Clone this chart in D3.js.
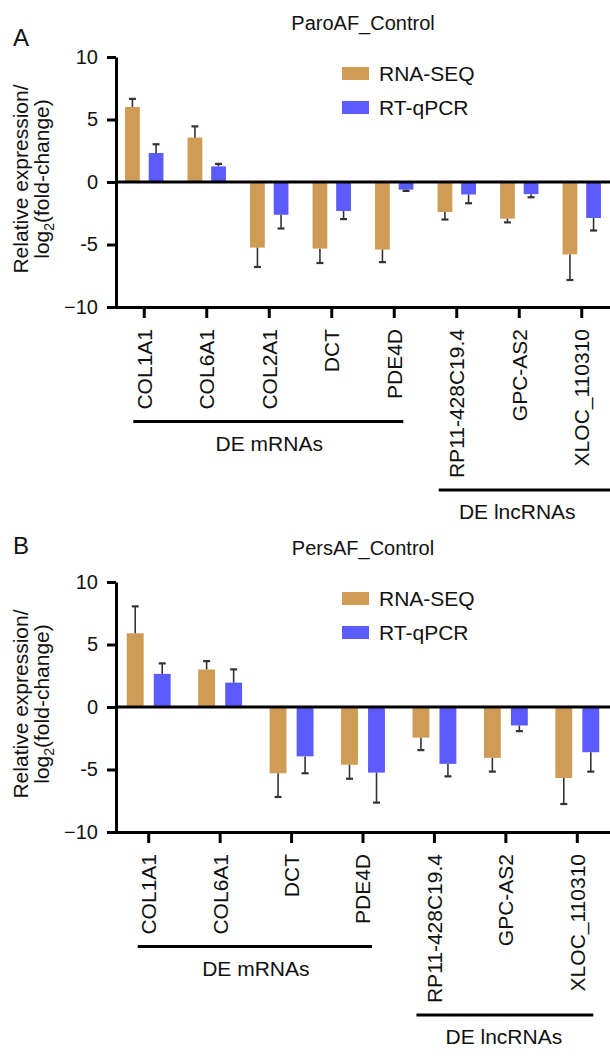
<!DOCTYPE html>
<html>
<head>
<meta charset="utf-8">
<script src="https://cdn.jsdelivr.net/npm/d3@7"></script>
<style>
  body { margin: 0; background: #fff; }
  text { font-family: "Liberation Sans", Arial, Helvetica, sans-serif; fill: #111; }
</style>
</head>
<body>
<script>
// series names + colours
var series = ["RNA-SEQ", "RT-qPCR"];
var colors = ["#CF9C55", "#5B5BFE"];

// y axis ticks
var yTicks = [-10, -5, 0, 5, 10];
var yTickLabels = ["\u221210", "-5", "0", "5", "10"];

// panel A: ParoAF_Control
var genesA = ["COL1A1", "COL6A1", "COL2A1", "DCT", "PDE4D", "RP11-428C19.4", "GPC-AS2", "XLOC_110310"];
var seqA = [6.0, 3.55, -5.25, -5.33, -5.41, -2.4, -2.93, -5.79];
var seqErrA = [0.65, 0.9, 1.55, 1.15, 1.0, 0.6, 0.3, 2.05];
var pcrA = [2.32, 1.25, -2.62, -2.32, -0.61, -1.0, -0.97, -2.88];
var pcrErrA = [0.7, 0.2, 1.1, 0.65, 0.1, 0.7, 0.25, 1.0];
var mrnaA = ["COL1A1", "COL6A1", "COL2A1", "DCT", "PDE4D"];
var lncA = ["RP11-428C19.4", "GPC-AS2", "XLOC_110310"];

// panel B: PersAF_Control
var genesB = ["COL1A1", "COL6A1", "DCT", "PDE4D", "RP11-428C19.4", "GPC-AS2", "XLOC_110310"];
var seqB = [5.9, 3.0, -5.3, -4.62, -2.45, -4.07, -5.68];
var seqErrB = [2.15, 0.67, 1.9, 1.12, 1.0, 1.1, 2.08];
var pcrB = [2.65, 1.95, -3.95, -5.25, -4.55, -1.48, -3.62];
var pcrErrB = [0.84, 1.06, 1.35, 2.4, 1.0, 0.45, 1.55];
var mrnaB = ["COL1A1", "COL6A1", "DCT", "PDE4D"];
var lncB = ["RP11-428C19.4", "GPC-AS2", "XLOC_110310"];

var W = 610, H = 1056;
var svg = d3.select("body").append("svg").attr("width", W).attr("height", H);

function drawPanel(p) {
    var g = svg.append("g");
    var axisX = 116;

    var y = d3.scaleLinear().domain([-10, 10]).range([p.yBottom, p.yTop]);
    var x = d3.scaleBand().domain(p.genes).range([113, 613]).padding(0);
    var x1 = d3.scaleBand().domain(series).range([0, x.bandwidth()])
        .paddingInner(0.375).paddingOuter(0.51);

    // letter + title
    g.append("text").attr("x", 13).attr("y", p.letterY)
        .attr("font-size", 24).text(p.letter);
    g.append("text").attr("x", 363).attr("y", p.yTop - 27)
        .attr("text-anchor", "middle").attr("font-size", 20).text(p.title);

    // bars
    var rows = p.genes.map(function (d, i) {
        return [
            { gene: d, s: series[0], v: p.seq[i], e: p.seqErr[i] },
            { gene: d, s: series[1], v: p.pcr[i], e: p.pcrErr[i] }
        ];
    });
    var flat = [].concat.apply([], rows);

    g.selectAll("rect.bar").data(flat).enter().append("rect")
        .attr("class", "bar")
        .attr("x", function (d) { return x(d.gene) + x1(d.s); })
        .attr("width", x1.bandwidth())
        .attr("y", function (d) { return y(Math.max(0, d.v)); })
        .attr("height", function (d) { return Math.abs(y(d.v) - y(0)); })
        .attr("fill", function (d) { return colors[series.indexOf(d.s)]; });

    // error bars (one-sided)
    var eb = g.selectAll("g.err").data(flat).enter().append("g").attr("class", "err")
        .attr("stroke", "#333").attr("stroke-width", 1.6);
    eb.append("line")
        .attr("x1", function (d) { return x(d.gene) + x1(d.s) + x1.bandwidth() / 2; })
        .attr("x2", function (d) { return x(d.gene) + x1(d.s) + x1.bandwidth() / 2; })
        .attr("y1", function (d) { return y(d.v); })
        .attr("y2", function (d) { return y(d.v + Math.sign(d.v) * d.e); });
    eb.append("line")
        .attr("stroke-width", 2.2)
        .attr("x1", function (d) { return x(d.gene) + x1(d.s) + x1.bandwidth() / 2 - 3.5; })
        .attr("x2", function (d) { return x(d.gene) + x1(d.s) + x1.bandwidth() / 2 + 3.5; })
        .attr("y1", function (d) { return y(d.v + Math.sign(d.v) * d.e); })
        .attr("y2", function (d) { return y(d.v + Math.sign(d.v) * d.e); });

    // zero line
    g.append("line").attr("x1", axisX).attr("x2", W)
        .attr("y1", y(0)).attr("y2", y(0))
        .attr("stroke", "#000").attr("stroke-width", 3);

    // y axis
    var gy = g.append("g").attr("transform", "translate(" + axisX + ",0)")
        .call(d3.axisLeft(y).tickValues(yTicks).tickSize(9).tickSizeOuter(0).tickPadding(9)
            .tickFormat(function (d, i) { return yTickLabels[i]; }));
    gy.select(".domain").attr("stroke-width", 3);
    gy.selectAll(".tick line").attr("stroke-width", 3);
    gy.selectAll(".tick text").attr("font-size", 20).attr("font-family", null).attr("fill", "#111");

    // y title
    var yt = g.append("g").attr("transform", "translate(0," + (y(0) - 3) + ") rotate(-90)");
    yt.append("text").attr("y", 28).attr("text-anchor", "middle").attr("font-size", 21)
        .text("Relative expression/");
    var t2 = yt.append("text").attr("y", 49).attr("text-anchor", "middle").attr("font-size", 21);
    t2.append("tspan").text("log");
    t2.append("tspan").attr("font-size", 14).attr("dy", 5).text("2");
    t2.append("tspan").attr("dy", -5).text("(fold-change)");

    // x axis
    var gx = g.append("g").attr("transform", "translate(0," + y(-10) + ")")
        .call(d3.axisBottom(x).tickSize(11).tickSizeOuter(0));
    gx.select(".domain").attr("stroke-width", 3);
    gx.selectAll(".tick line").attr("stroke-width", 3);
    gx.selectAll(".tick text")
        .attr("font-size", 21).attr("font-family", null).attr("fill", "#111")
        .attr("transform", "rotate(-90)")
        .attr("x", -22).attr("y", 0).attr("dy", "0.35em")
        .attr("text-anchor", "end");

    // group brackets under labels
    function bracket(list, x0, x1e) {
        var maxLen = 0;
        gx.selectAll(".tick").filter(function (d) { return list.indexOf(d) >= 0; })
            .select("text").each(function () {
                maxLen = Math.max(maxLen, this.getComputedTextLength());
            });
        var ly = y(-10) + 22 + maxLen + 12;
        g.append("line").attr("x1", x0).attr("x2", x1e)
            .attr("y1", ly).attr("y2", ly)
            .attr("stroke", "#000").attr("stroke-width", 3);
        return ly;
    }
    var c = function (d) { return x(d) + x.bandwidth() / 2; };
    var m0 = c(p.mrna[0]), m1 = c(p.mrna[p.mrna.length - 1]);
    var ly1 = bracket(p.mrna, m0 - 11, m1 + 9);
    g.append("text").attr("x", (m0 + m1) / 2).attr("y", ly1 + 29)
        .attr("text-anchor", "middle").attr("font-size", 21).text("DE mRNAs");

    var l0 = c(p.lnc[0]), l1 = c(p.lnc[p.lnc.length - 1]);
    var ly2 = bracket(p.lnc, l0 - 18, p.lncToEdge ? W : l1 + 16);
    g.append("text").attr("x", (l0 + l1) / 2 - 2).attr("y", ly2 + 29)
        .attr("text-anchor", "middle").attr("font-size", 21).text("DE lncRNAs");

    // legend
    var lg = g.append("g").attr("transform", "translate(342," + (p.yTop + 16.5) + ")");
    series.forEach(function (s, i) {
        lg.append("rect").attr("x", 0).attr("y", i * 34 - 6.5)
            .attr("width", 27).attr("height", 13).attr("fill", colors[i]);
        lg.append("text").attr("x", 37).attr("y", i * 34).attr("dy", "0.36em")
            .attr("font-size", 21).text(s);
    });
}

drawPanel({
    letter: "A", letterY: 46, title: "ParoAF_Control",
    yTop: 57, yBottom: 307,
    genes: genesA, seq: seqA, seqErr: seqErrA, pcr: pcrA, pcrErr: pcrErrA,
    mrna: mrnaA, lnc: lncA, lncToEdge: true
});

drawPanel({
    letter: "B", letterY: 554, title: "PersAF_Control",
    yTop: 582, yBottom: 832,
    genes: genesB, seq: seqB, seqErr: seqErrB, pcr: pcrB, pcrErr: pcrErrB,
    mrna: mrnaB, lnc: lncB, lncToEdge: false
});
</script>
</body>
</html>
